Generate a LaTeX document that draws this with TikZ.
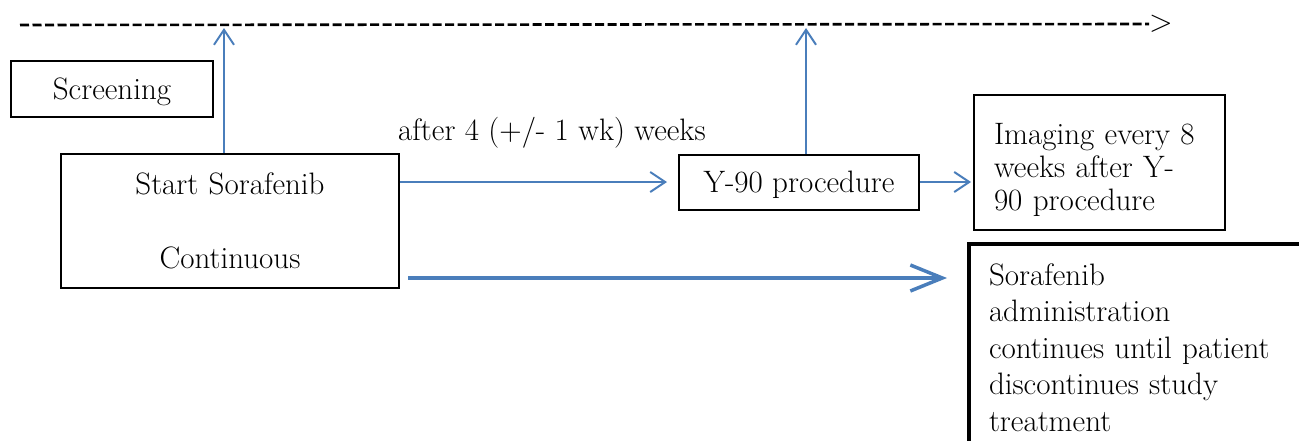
\documentclass[tikz,border=0pt]{standalone}
\usepackage{fontspec}
\usetikzlibrary{arrows.meta}
\definecolor{linkblue}{HTML}{4A7EBB}
\begin{document}
\begin{tikzpicture}[x=1pt,y=-1pt,
  txt/.style={font=\fontsize{31}{36.5}\selectfont},
  box/.style={draw=black, line width=2pt, inner sep=0pt, txt},
  link/.style={draw=linkblue, line width=2pt, -{Straight Barb[length=15pt,width=20pt]}},
  biglink/.style={draw=linkblue, line width=3.5pt, -{Straight Barb[length=32pt,width=26pt]}},
  dashline/.style={draw=black, line width=2.6pt, dash pattern=on 9pt off 3.5pt}]
\path[use as bounding box] (0,0) rectangle (1299,440);
\clip (0,0) rectangle (1299,440);

% time line
\coordinate (d0) at (20,25);
\node[txt, anchor=west, inner sep=0pt] (gt) at (1149,24) {>};
\draw[dashline] (d0) -- (gt.west);

% boxes
\node[box, minimum width=202pt, minimum height=56pt, text height=21pt, text depth=0pt] (scr) at (112,89) {Screening};
\node[box, anchor=north, text width=338pt, align=center] (start) at (230,153)
  {\rule{0pt}{40pt}Start Sorafenib\\[37.5pt]Continuous\rule[-20pt]{0pt}{20pt}};
\node[box, minimum width=240pt, minimum height=55pt, text height=21pt, text depth=0pt] (y90) at (799,182) {Y-90 procedure};
\node[box, anchor=north west, text width=211pt, inner xsep=20pt, inner ysep=0pt, align=left,
  font=\fontsize{31}{33}\selectfont] (img) at (973,94)
  {\rule{0pt}{49pt}\mbox{Imaging every 8}\\\mbox{weeks after Y-}\\\mbox{90 procedure}\rule[-20pt]{0pt}{20pt}};
\node[box, line width=4pt, anchor=north west, text width=330pt, inner xsep=20pt, inner ysep=0pt, align=left] (sor) at (967,242)
  {\rule{0pt}{41pt}Sorafenib\\administration\\continues until patient\\discontinues study\\treatment\rule[-40pt]{0pt}{40pt}};

% label
\node[txt, anchor=base west, inner sep=0pt] (wk) at (398,140) {after 4 (+/- 1 wk) weeks};

% connectors
\coordinate (t1) at (224,28);
\coordinate (t2) at (806,28);
\coordinate (k) at (0,278);
\draw[link] (t1 |- start.north) -- (t1);
\draw[link] (t2 |- y90.north) -- (t2);
\draw[link, shorten >=11pt] (start.east |- y90.west) -- (y90.west);
\draw[link, shorten >=2pt] (y90.east) -- (img.west |- y90.east);
\draw[biglink, shorten <=8pt, shorten >=20pt] (start.east |- k) -- (sor.west |- k);
\end{tikzpicture}
\end{document}
